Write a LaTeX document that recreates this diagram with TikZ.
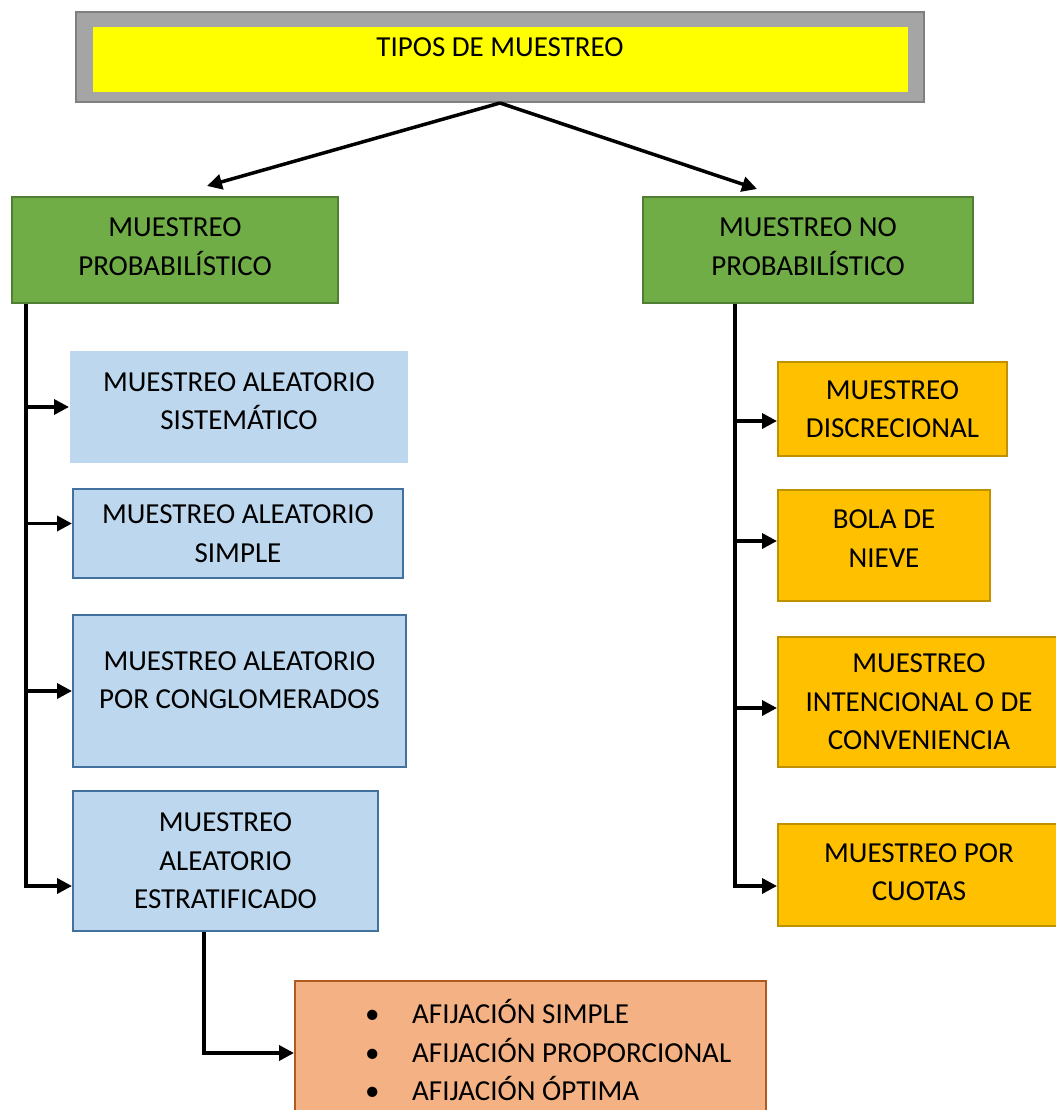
\documentclass[tikz,border=0pt]{standalone}
\usepackage{fontspec}
\setmainfont{Carlito}
\usetikzlibrary{arrows.meta}

\definecolor{framegray}{HTML}{A5A5A5}
\definecolor{frameline}{HTML}{7F7F7F}
\definecolor{titleyellow}{HTML}{FFFF00}
\definecolor{grn}{HTML}{70AD47}
\definecolor{grnline}{HTML}{507E32}
\definecolor{blu}{HTML}{BDD7EE}
\definecolor{bluline}{HTML}{41719C}
\definecolor{gold}{HTML}{FFC000}
\definecolor{goldline}{HTML}{BF9000}
\definecolor{peach}{HTML}{F4B183}
\definecolor{peachline}{HTML}{AE5A21}

\begin{document}
\begin{tikzpicture}[x=1pt,y=-1pt,
    every node/.style={font=\fontsize{29}{38.5}\selectfont, inner sep=0pt, align=center},
    box/.style={rectangle, line width=2pt},
    greenbox/.style={box, fill=grn, draw=grnline, text depth=7pt},
    bluebox/.style={box, fill=blu, draw=bluline},
    goldbox/.style={box, fill=gold, draw=goldline},
    conn/.style={line width=3.5pt, -{Triangle[length=15pt,width=15pt]}}]
\useasboundingbox (0,0) rectangle (1056,1110);

% title
\node[box, fill=framegray, draw=frameline, minimum width=848, minimum height=90] (frame) at (500,57) {};
\node[rectangle, fill=titleyellow, minimum width=815, minimum height=65] (ybox) at (500.5,59.5) {};
\node (ttl) at (500,47) {TIPOS DE MUESTREO};

% two kinds
\node[greenbox, minimum width=326, minimum height=106] (pl) at (175,250) {MUESTREO\\PROBABILÍSTICO};
\node[greenbox, minimum width=330, minimum height=106] (pr) at (808,250) {MUESTREO NO\\PROBABILÍSTICO};

% probabilistic
\node[bluebox, draw=none, text depth=12pt, minimum width=338, minimum height=112] (b1) at (239,407) {MUESTREO ALEATORIO\\SISTEMÁTICO};
\node[bluebox, minimum width=330, minimum height=89] (b2) at (238,533.5) {MUESTREO ALEATORIO\\SIMPLE};
\node[bluebox, text depth=22pt, minimum width=333, minimum height=152] (b3) at (239.5,691) {MUESTREO ALEATORIO\\POR CONGLOMERADOS};
\node[bluebox, minimum width=305, minimum height=140] (b4) at (225.5,861) {MUESTREO\\ALEATORIO\\ESTRATIFICADO};

\node[box, fill=peach, draw=peachline, minimum width=471, minimum height=144] (ob) at (530.5,1053) {};
\node[anchor=west, align=left] (olist) at (365,1050)
    {\makebox[47pt][l]{\textbullet}AFIJACIÓN SIMPLE\\
     \makebox[47pt][l]{\textbullet}AFIJACIÓN PROPORCIONAL\\
     \makebox[47pt][l]{\textbullet}AFIJACIÓN ÓPTIMA};

% non probabilistic
\node[goldbox, minimum width=229, minimum height=94] (g1) at (892.5,409) {MUESTREO\\DISCRECIONAL};
\node[goldbox, text depth=14pt, minimum width=212, minimum height=111] (g2) at (884,545.5) {BOLA DE\\NIEVE};
\node[goldbox, minimum width=282, minimum height=130] (g3) at (919,702) {MUESTREO\\INTENCIONAL O DE\\CONVENIENCIA};
\node[goldbox, text depth=6pt, minimum width=282, minimum height=102] (g4) at (919,875) {MUESTREO POR\\CUOTAS};

% connectors
\coordinate (pltip) at (207,186);
\coordinate (prtip) at (757,189);
\draw[conn] (frame.south) -- (pltip);
\draw[conn] (frame.south) -- (prtip);

\draw[conn] ([xshift=15pt]pl.south west) |- (b1.west);
\draw[conn] ([xshift=15pt]pl.south west) |- ([yshift=10pt]b2.west);
\draw[conn] ([xshift=15pt]pl.south west) |- (b3.west);
\draw[conn] ([xshift=15pt]pl.south west) |- ([yshift=-25pt]b4.west);
\draw[conn] ([xshift=-21.5pt]b4.south) |- (ob.west);

\draw[conn] ([xshift=-73pt]pr.south) |- ([yshift=-12pt]g1.west);
\draw[conn] ([xshift=-73pt]pr.south) |- ([yshift=4.5pt]g2.west);
\draw[conn] ([xshift=-73pt]pr.south) |- ([yshift=-6pt]g3.west);
\draw[conn] ([xshift=-73pt]pr.south) |- ([yshift=-11pt]g4.west);
\end{tikzpicture}
\end{document}
